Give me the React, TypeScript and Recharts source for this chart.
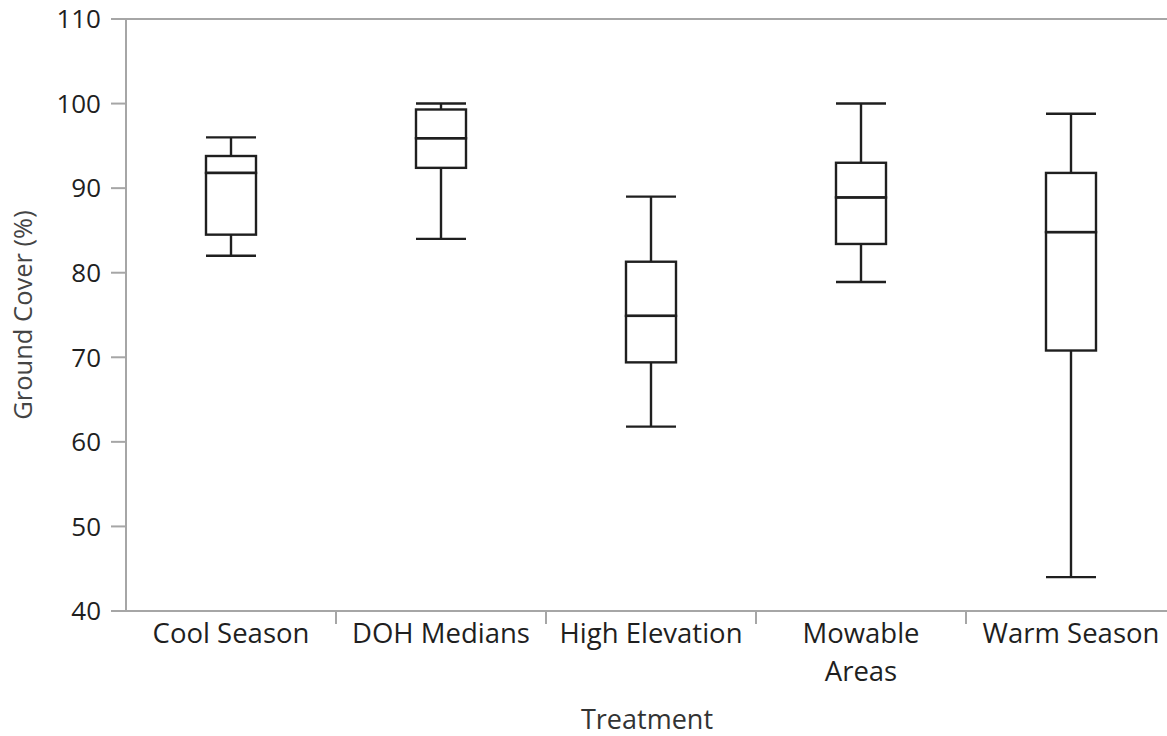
import React from 'react';
import {
  ComposedChart,
  Bar,
  XAxis,
  YAxis,
  ReferenceLine,
} from 'recharts';

const categories = ['Cool Season', 'DOH Medians', 'High Elevation', 'Mowable Areas', 'Warm Season'];
const tickLines = [['Cool Season'], ['DOH Medians'], ['High Elevation'], ['Mowable', 'Areas'], ['Warm Season']];

// five-number summaries per treatment
const minValues = [82, 84, 61.8, 78.9, 44];
const q1Values = [84.5, 92.4, 69.4, 83.4, 70.8];
const medianValues = [91.8, 95.9, 74.9, 88.9, 84.8];
const q3Values = [93.8, 99.3, 81.3, 93, 91.8];
const maxValues = [96, 100, 89, 100, 98.8];

const yTicks = [40, 50, 60, 70, 80, 90, 100, 110];

const FONT = '"Segoe UI", "Open Sans", sans-serif';
const AXIS_GRAY = '#a6a6a6';
const INK = '#1f1f1f';

// stacked segments: invisible base, lower whisker, lower box, upper box, upper whisker
const data = categories.map((name, i) => ({
  name,
  base: minValues[i],
  lowWhisker: q1Values[i] - minValues[i],
  lowBox: medianValues[i] - q1Values[i],
  highBox: q3Values[i] - medianValues[i],
  highWhisker: maxValues[i] - q3Values[i],
}));

const LowWhisker = (p: any) => {
  const cx = p.x + p.width / 2;
  const bottom = p.y + p.height;
  return (
    <g stroke={INK} strokeWidth={2.4}>
      <line x1={cx} x2={cx} y1={p.y} y2={bottom} />
      <line x1={p.x} x2={p.x + p.width} y1={bottom} y2={bottom} />
    </g>
  );
};

const HighWhisker = (p: any) => {
  const cx = p.x + p.width / 2;
  return (
    <g stroke={INK} strokeWidth={2.4}>
      <line x1={cx} x2={cx} y1={p.y} y2={p.y + p.height} />
      <line x1={p.x} x2={p.x + p.width} y1={p.y} y2={p.y} />
    </g>
  );
};

const BoxPart = (p: any) => (
  <rect x={p.x} y={p.y} width={p.width} height={p.height} fill="none" stroke={INK} strokeWidth={2.4} />
);

const BAND = 210;

const CategoryTick = (props: any) => {
  const { x, y, index } = props;
  const lines = tickLines[index] || [props.payload.value];
  return (
    <g>
      {index > 0 && (
        <line x1={x - BAND / 2} x2={x - BAND / 2} y1={y} y2={y + 13} stroke={AXIS_GRAY} strokeWidth={2} />
      )}
      <text x={x} y={y + 32} textAnchor="middle" fontFamily={FONT} fontSize={27.5} fill={INK}>
        {lines.map((l: string, k: number) => (
          <tspan key={k} x={x} dy={k === 0 ? 0 : 38}>
            {l}
          </tspan>
        ))}
      </text>
    </g>
  );
};

const YLabel = (props: any) => {
  const { viewBox } = props;
  const cy = viewBox.y + viewBox.height / 2;
  return (
    <text
      x={22}
      y={cy}
      transform={`rotate(-90, 22, ${cy})`}
      textAnchor="middle"
      dominantBaseline="central"
      fontFamily={FONT}
      fontSize={25.5}
      fill="#444"
    >
      Ground Cover (%)
    </text>
  );
};

const XLabel = () => (
  <text x={647} y={729} textAnchor="middle" fontFamily={FONT} fontSize={27} fill="#333">
    Treatment
  </text>
);

export default function App() {
  return (
    <div
      style={{
        position: 'absolute',
        left: 0,
        top: 0,
        width: 1167,
        height: 736,
        overflow: 'hidden',
        background: '#fff',
      }}
    >
      <ComposedChart
        width={1176}
        height={736}
        data={data}
        margin={{ top: 19, right: 0, bottom: 0, left: 0 }}
        barCategoryGap={0}
      >
        <XAxis
          dataKey="name"
          height={125}
          axisLine={{ stroke: AXIS_GRAY, strokeWidth: 2 }}
          tickLine={false}
          tickSize={0}
          tickMargin={0}
          interval={0}
          tick={<CategoryTick />}
          label={<XLabel />}
        />
        <YAxis
          width={126}
          domain={[40, 110]}
          ticks={yTicks}
          allowDataOverflow
          axisLine={{ stroke: AXIS_GRAY, strokeWidth: 2 }}
          tickLine={{ stroke: AXIS_GRAY, strokeWidth: 2 }}
          tickSize={15}
          tickMargin={10}
          tick={{ fontFamily: FONT, fontSize: 26, fill: INK }}
          label={<YLabel />}
        />
        <ReferenceLine y={110} stroke={AXIS_GRAY} strokeWidth={2} />
        <Bar dataKey="base" stackId="box" barSize={50} fill="none" isAnimationActive={false} />
        <Bar dataKey="lowWhisker" stackId="box" barSize={50} shape={LowWhisker} isAnimationActive={false} />
        <Bar dataKey="lowBox" stackId="box" barSize={50} shape={BoxPart} isAnimationActive={false} />
        <Bar dataKey="highBox" stackId="box" barSize={50} shape={BoxPart} isAnimationActive={false} />
        <Bar dataKey="highWhisker" stackId="box" barSize={50} shape={HighWhisker} isAnimationActive={false} />
      </ComposedChart>
    </div>
  );
}
